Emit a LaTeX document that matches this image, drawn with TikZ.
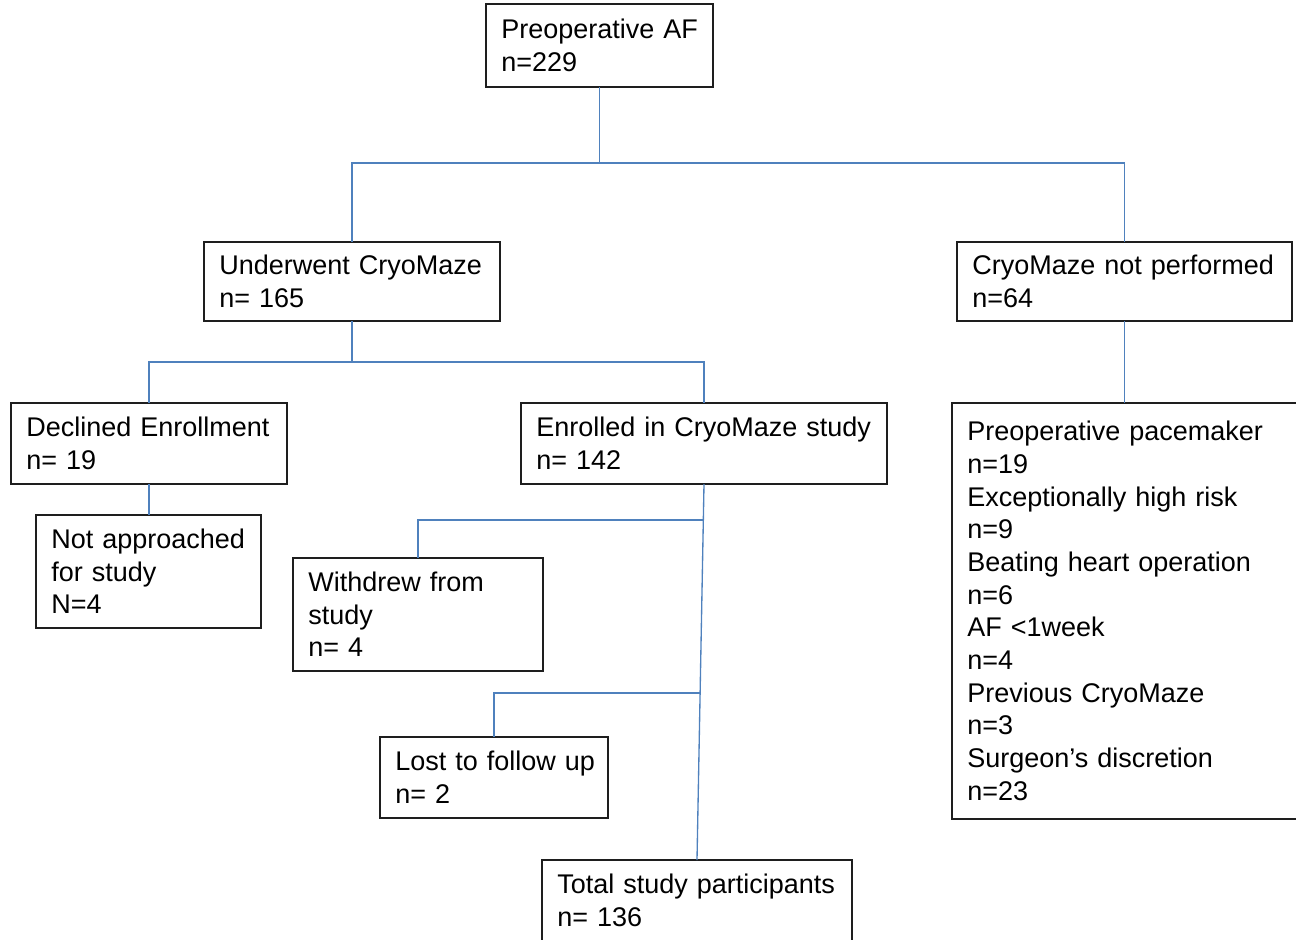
\documentclass[tikz,border=0pt]{standalone}
\usepackage{fontspec}
\usetikzlibrary{calc}
\setmainfont{Liberation Sans}
\definecolor{conn}{RGB}{79,129,189}
\definecolor{boxline}{RGB}{30,30,30}
\tikzset{
  box/.style={draw=boxline, line width=1pt, rectangle, anchor=north west, align=left,
    inner xsep=11.5pt, inner ysep=0pt, outer sep=0pt,
    font=\fontsize{20.25pt}{24.5pt}\selectfont},
  link/.style={draw=conn, line width=1pt}
}
\begin{document}
\begin{tikzpicture}[x=0.75pt,y=-0.75pt]
\useasboundingbox (0,0) rectangle (1296,939);
\node[box, text width=147.25pt, minimum width=170.25pt, minimum height=62.25pt] (pre) at (486,4) {\mbox{Preoperative AF}\\n=229};
\node[box, text width=199pt, minimum width=222pt, minimum height=59.25pt] (und) at (204,242) {\mbox{Underwent CryoMaze}\\n= 165};
\node[box, text width=228.25pt, minimum width=251.25pt, minimum height=59.25pt] (notp) at (957,242) {\mbox{CryoMaze not performed}\\n=64};
\node[box, text width=184pt, minimum width=207pt, minimum height=60.75pt] (dec) at (11,403) {\mbox{Declined Enrollment}\\n= 19};
\node[box, text width=251.5pt, minimum width=274.5pt, minimum height=60.75pt] (enr) at (521,403) {\mbox{Enrolled in CryoMaze study}\\n= 142};
\node[box, text width=145.75pt, minimum width=168.75pt, minimum height=84.75pt] (nap) at (36,515) {\mbox{Not approached}\\for study\\N=4};
\node[box, text width=164.5pt, minimum width=187.5pt, minimum height=84.75pt] (wd) at (293,558) {\mbox{Withdrew from}\\study\\n= 4};
\node[box, text width=148pt, minimum width=171pt, minimum height=60.75pt] (lost) at (380,737) {\mbox{Lost to follow up}\\n= 2};
\node[box, text width=209.5pt, minimum width=232.5pt, minimum height=60.75pt] (tot) at (542,860) {\mbox{Total study participants}\\n= 136};
\node[box, text width=239.5pt, minimum width=262.5pt, minimum height=312pt] (rsn) at (952,403) {\mbox{Preoperative pacemaker}\\n=19\\\mbox{Exceptionally high risk}\\n=9\\\mbox{Beating heart operation}\\n=6\\AF <1week\\n=4\\\mbox{Previous CryoMaze}\\n=3\\\mbox{Surgeon’s discretion}\\n=23};

% top split
\coordinate (s1) at (599,163);
\draw[link] (pre.south) -- (pre.south |- s1);
\draw[link] (pre.south |- s1) -| (und.north);
\draw[link] (pre.south |- s1) -| (notp.north);
% second split
\coordinate (s2) at (352,362);
\draw[link] (und.south) -- (und.south |- s2);
\draw[link] (und.south |- s2) -| (dec.north);
\draw[link] (und.south |- s2) -| (enr.north);
% declined to not approached
\draw[link] (dec.south) -- (dec.south |- nap.north);
% enrolled to total
\draw[link] (enr.south) -- (tot.north);
\coordinate (b1) at ($(enr.south)!0.0957!(tot.north)$);
\coordinate (b2) at ($(enr.south)!0.556!(tot.north)$);
\draw[link] (b1) -| (wd.north);
\draw[link] (b2) -| (lost.north);
% not performed to reasons
\draw[link] (notp.south) -- (notp.south |- rsn.north);
\end{tikzpicture}
\end{document}
